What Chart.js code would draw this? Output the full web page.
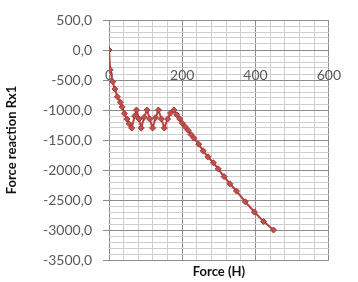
<!DOCTYPE html>
<html>
<head>
<meta charset="utf-8">
<script src="https://cdn.jsdelivr.net/npm/chart.js@4.4.1/dist/chart.umd.min.js"></script>
<style>
  html, body { margin: 0; padding: 0; background: #fff; }
</style>
</head>
<body>
<canvas id="force-chart" width="358" height="282"></canvas>
<script>
// Force (H) - x values of the curve
let forceValues = [
  0, 3, 10, 16, 23, 31, 36, 42, 49, 55,
  62, 70, 75, 82, 88, 96, 104, 111, 119, 127,
  135, 143, 151, 160, 168, 177,
  185, 193, 200, 208, 216, 224, 232, 245, 257, 270,
  285, 298, 314, 330, 348, 372, 397, 422, 449
];

// Force reaction Rx1 - y values of the curve
let reactionValues = [
  0, -330, -530, -650, -780, -870, -950, -1060, -1150, -1230,
  -1300, -1100, -1000, -1150, -1300, -1120, -1000, -1150, -1300, -1130,
  -1000, -1150, -1300, -1150, -1050, -1000,
  -1080, -1150, -1220, -1280, -1340, -1410, -1470, -1570, -1680, -1780,
  -1880, -1980, -2110, -2230, -2350, -2530, -2700, -2860, -3000
];

// tick labels
let xTickLabels = ['0', '200', '400', '600'];
let yTickLabels = ['500,0', '0,0', '-500,0', '-1000,0', '-1500,0', '-2000,0', '-2500,0', '-3000,0', '-3500,0'];

let points = forceValues.map((x, i) => ({ x: x, y: reactionValues[i] }));

let labelFont = { family: 'Lato', size: 14 };
let titleFont = { family: 'Lato', size: 13, weight: 'bold' };

let ctx = document.getElementById('force-chart').getContext('2d');

let forceChart = new Chart(ctx, {
  type: 'scatter',
  data: {
    datasets: [{
      data: points,
      showLine: true,
      borderColor: '#b8403d',
      borderWidth: 2,
      backgroundColor: '#c0504d',
      pointStyle: 'rectRot',
      pointRadius: 3,
      pointBorderColor: '#a33a37',
      pointBorderWidth: 1
    }]
  },
  options: {
    responsive: false,
    animation: false,
    layout: { padding: { top: 20, right: 18, left: 0, bottom: 0 } },
    plugins: {
      legend: { display: false },
      tooltip: { enabled: false }
    },
    scales: {
      x: {
        type: 'linear',
        position: { y: 0 },
        min: 0,
        max: 600,
        ticks: {
          stepSize: 40,
          autoSkip: false,
          maxRotation: 0,
          padding: 17,
          color: '#595959',
          font: labelFont,
          callback: v => (v % 200 === 0 ? xTickLabels[v / 200] : '')
        },
        grid: {
          drawTicks: false,
          color: c => (c.tick && c.tick.value % 200 === 0 ? '#8c8c8c' : '#cfcfcf')
        },
        border: { display: false }
      },
      x2: {
        type: 'linear',
        position: 'bottom',
        min: 0,
        max: 600,
        ticks: { display: false },
        grid: { display: false },
        border: { display: false },
        title: { display: true, text: 'Force (H)', color: '#111', font: titleFont, padding: { top: 2, bottom: 2 } },
        afterFit: s => { s.height = 22; }
      },
      y: {
        min: -3500,
        max: 500,
        ticks: {
          stepSize: 100,
          autoSkip: false,
          padding: 11,
          color: '#595959',
          font: labelFont,
          callback: v => (v % 500 === 0 ? yTickLabels[(500 - v) / 500] : '')
        },
        grid: {
          tickLength: 6,
          color: c => (c.tick && c.tick.value % 500 === 0 ? '#8c8c8c' : '#cfcfcf'),
          tickColor: c => (c.tick && c.tick.value % 500 === 0 ? '#8c8c8c' : 'rgba(0,0,0,0)')
        },
        border: { display: false },
        title: { display: true, text: 'Force reaction Rx1', color: '#111', font: titleFont, padding: { top: 4, bottom: 0 } },
        afterFit: s => { s.width = 109; }
      }
    }
  }
});
</script>
</body>
</html>
